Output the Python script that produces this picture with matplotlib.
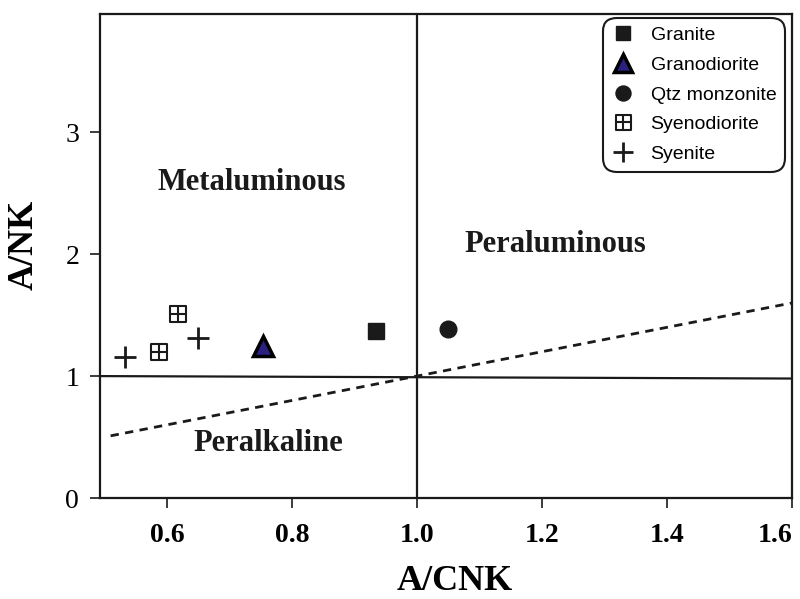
import matplotlib
matplotlib.use("Agg")
import matplotlib.pyplot as plt
from matplotlib.path import Path

# sample points (A/CNK, A/NK)
granite_x = [0.935]
granite_y = [1.37]
granodiorite_x = [0.754]
granodiorite_y = [1.25]
qtz_monzonite_x = [1.05]
qtz_monzonite_y = [1.39]
syenodiorite_x = [0.588, 0.618]
syenodiorite_y = [1.20, 1.51]
syenite_x = [0.533, 0.650]
syenite_y = [1.16, 1.31]

# boundary lines
hline_x = [0.493, 1.6]
hline_y = [1.0, 0.98]
vline_x = [1.0, 1.0]
vline_y = [0.0, 3.97]
dash_x = [0.51, 1.6]
dash_y = [0.51, 1.6]

x_ticks = [0.6, 0.8, 1.0, 1.2, 1.4, 1.6]
y_ticks = [0, 1, 2, 3]

ink = "#1a1a1a"
serif = ["Liberation Serif", "DejaVu Serif"]

# square with a cross inside
box_plus = Path(
    [(-1, -1), (1, -1), (1, 1), (-1, 1), (-1, -1),
     (-1, 0), (1, 0), (0, -1), (0, 1)],
    [Path.MOVETO, Path.LINETO, Path.LINETO, Path.LINETO, Path.CLOSEPOLY,
     Path.MOVETO, Path.LINETO, Path.MOVETO, Path.LINETO])

fig = plt.figure(figsize=(8, 5.99), dpi=100)
ax = fig.add_axes([0.125, 0.1686, 0.865, 0.808])

ax.plot(hline_x, hline_y, color=ink, lw=1.6)
ax.plot(vline_x, vline_y, color=ink, lw=1.6)
ax.plot(dash_x, dash_y, color=ink, lw=2.0, ls=(0, (3, 2.3)))

ax.plot(granite_x, granite_y, ls="none", marker="s", ms=11,
        mfc=ink, mec=ink, label="Granite")
ax.plot(granodiorite_x, granodiorite_y, ls="none", marker="^", ms=14,
        mfc="#2b2080", mec="black", mew=2.5, label="Granodiorite")
ax.plot(qtz_monzonite_x, qtz_monzonite_y, ls="none", marker="o", ms=12,
        mfc=ink, mec=ink, label="Qtz monzonite")
ax.plot(syenodiorite_x, syenodiorite_y, ls="none", marker=box_plus, ms=12,
        mfc="white", mec=ink, mew=1.5, label="Syenodiorite")
ax.plot(syenite_x, syenite_y, ls="none", marker="+", ms=16,
        mec=ink, mew=2.0, label="Syenite")

ax.set_xlim(0.493, 1.6)
ax.set_ylim(0, 3.97)
ax.set_xticks(x_ticks)
ax.set_xticklabels([f"{v:.1f}" for v in x_ticks], family=serif,
                   fontweight="bold", fontsize=20)
ax.get_xticklabels()[-1].set_ha("right")
ax.set_yticks(y_ticks)
ax.set_yticklabels([str(v) for v in y_ticks], family=serif, fontsize=20)
ax.tick_params(direction="out", length=7, width=1.2, color=ink)
ax.tick_params(axis="x", pad=11)
ax.tick_params(axis="y", pad=8)

for s in ax.spines.values():
    s.set_linewidth(1.6)
    s.set_color(ink)

ax.set_xlabel("A/CNK", family=serif, fontweight="bold", fontsize=26,
              va="center")
ax.xaxis.set_label_coords(0.513, -0.172)
ax.set_ylabel("A/NK", family=serif, fontweight="bold", fontsize=26,
              va="center")
ax.yaxis.set_label_coords(-0.11, 0.523)

ax.text(0.735, 2.59, "Metaluminous", family=serif, fontweight="bold",
        fontsize=22, ha="center", va="center", color=ink)
ax.text(1.221, 2.08, "Peraluminous", family=serif, fontweight="bold",
        fontsize=22, ha="center", va="center", color=ink)
ax.text(0.762, 0.45, "Peralkaline", family=serif, fontweight="bold",
        fontsize=22, ha="center", va="center", color=ink)

leg = ax.legend(loc="upper right", bbox_to_anchor=(0.990, 0.992),
                borderaxespad=0, frameon=True, fancybox=True,
                edgecolor=ink, framealpha=1, handlelength=1.2,
                handletextpad=0.8, labelspacing=0.62, markerscale=0.9,
                borderpad=0.45,
                prop={"family": ["Liberation Sans", "DejaVu Sans"], "size": 14})
leg.get_frame().set_linewidth(1.5)
leg.get_frame().set_boxstyle("round,pad=0,rounding_size=0.7")

fig.savefig("out.png", dpi=100)
